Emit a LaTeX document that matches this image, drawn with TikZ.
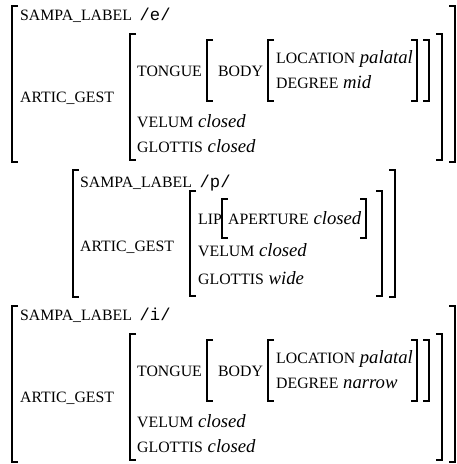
\documentclass[tikz,border=0pt]{standalone}
\usepackage{fontspec}
\setmainfont{Liberation Serif}
\setmonofont{Liberation Mono}
\usepackage{tikz}

% small capitals for feature names, typewriter for sampa symbols
\newcommand{\feat}[1]{{\fontsize{15.8}{19}\selectfont #1}}
\newcommand{\phon}[1]{\hspace{3pt}{\fontsize{17.2}{20}\ttfamily #1}}
% brackets: x, top, bottom
\newcommand{\lbr}[3]{\draw[brk] (#1+6,#2) -| (#1,#3) -- (#1+6,#3);}
\newcommand{\rbr}[3]{\draw[brk] (#1-6,#2) -| (#1,#3) -- (#1-6,#3);}

\begin{document}
\begin{tikzpicture}[
    x=1pt, y=-1pt,
    font=\fontsize{18.7}{22}\selectfont,
    brk/.style={
		line width=1.4pt
	},
	av/.style={
		anchor=base west,
		inner sep=0pt
	}
  ]
  \useasboundingbox (0,0) rectangle (457,464);

  % vowel /e/
  \node [av] (e-sampa) at (20,20) {\feat{SAMPA\_LABEL} \phon{/e/}};
  \node [av] (e-artic) at (20,102) {\feat{ARTIC\_GEST}};
  \node [av] (e-tongue) at (137,76) {\feat{TONGUE}};
  \node [av] (e-body) at (218,76) {\feat{BODY}};
  \node [av] (e-loc) at (276,63) {\feat{LOCATION} \textit{palatal}};
  \node [av] (e-deg) at (276,88) {\feat{DEGREE} \textit{mid}};
  \node [av] (e-velum) at (137,127) {\feat{VELUM} \textit{closed}};
  \node [av] (e-glottis) at (137,152) {\feat{GLOTTIS} \textit{closed}};
  \lbr{12}{6}{162} \rbr{455}{6}{162}
  \lbr{130}{34}{160} \rbr{442}{34}{160}
  \lbr{207}{40}{101} \rbr{429}{40}{101}
  \lbr{268}{40}{101} \rbr{417}{40}{101}

  % consonant /p/
  \node [av] (p-sampa) at (80,187) {\feat{SAMPA\_LABEL} \phon{/p/}};
  \node [av] (p-artic) at (80,251) {\feat{ARTIC\_GEST}};
  \node [av] (p-lip) at (198,224) {\feat{LIP}};
  \node [av] (p-aper) at (228,224) {\feat{APERTURE} \textit{closed}};
  \node [av] (p-velum) at (198,256) {\feat{VELUM} \textit{closed}};
  \node [av] (p-glottis) at (198,284) {\feat{GLOTTIS} \textit{wide}};
  \lbr{73}{170}{297} \rbr{395}{170}{297}
  \lbr{190}{191}{296} \rbr{382}{191}{296}
  \lbr{222}{199}{238} \rbr{366}{199}{238}

  % vowel /i/
  \node [av] (i-sampa) at (20,320) {\feat{SAMPA\_LABEL} \phon{/i/}};
  \node [av] (i-artic) at (20,402) {\feat{ARTIC\_GEST}};
  \node [av] (i-tongue) at (137,376) {\feat{TONGUE}};
  \node [av] (i-body) at (218,376) {\feat{BODY}};
  \node [av] (i-loc) at (276,363) {\feat{LOCATION} \textit{palatal}};
  \node [av] (i-deg) at (276,388) {\feat{DEGREE} \textit{narrow}};
  \node [av] (i-velum) at (137,427) {\feat{VELUM} \textit{closed}};
  \node [av] (i-glottis) at (137,452) {\feat{GLOTTIS} \textit{closed}};
  \lbr{12}{306}{462} \rbr{455}{306}{462}
  \lbr{130}{334}{460} \rbr{442}{334}{460}
  \lbr{207}{340}{401} \rbr{429}{340}{401}
  \lbr{268}{340}{401} \rbr{417}{340}{401}

\end{tikzpicture}
\end{document}
